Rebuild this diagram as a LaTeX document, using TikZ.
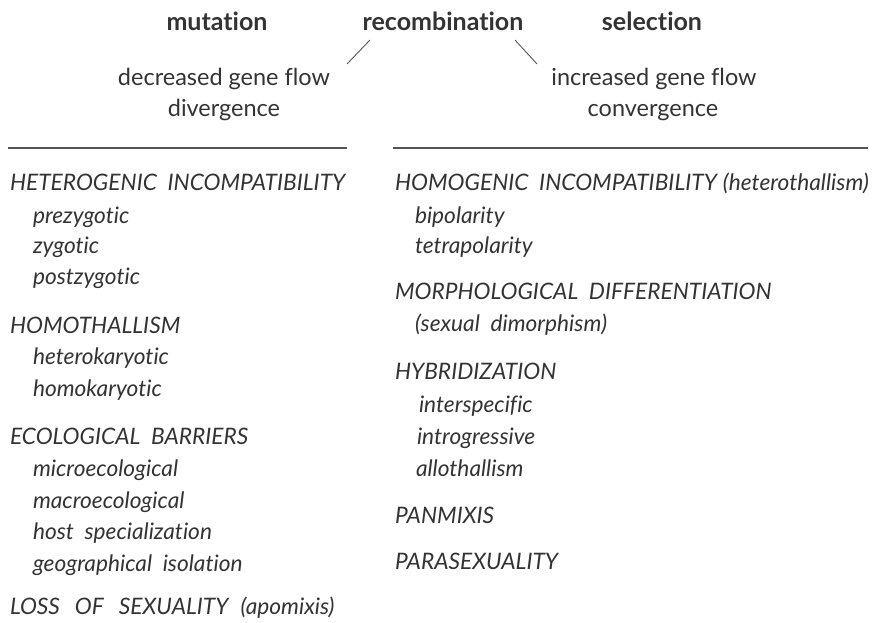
\documentclass[tikz,border=0pt]{standalone}
\usepackage{fontspec}
\setmainfont{Lato}[Ligatures=NoCommon]
\begin{document}
\begin{tikzpicture}[x=1pt,y=-1pt,
  every node/.style={inner sep=0pt, outer sep=0pt, text=txt},
  head/.style={anchor=mid, font=\fontsize{25}{28}\selectfont\bfseries},
  sub/.style={anchor=mid, font=\fontsize{23.5}{26}\selectfont},
  cat/.style={anchor=mid west, font=\fontsize{22.7}{26}\selectfont\itshape},
  item/.style={anchor=mid west, font=\fontsize{22.7}{26}\selectfont\itshape},
  rule/.style={draw=ln, line width=1.1pt},
  tick/.style={draw=ln, line width=0.9pt}]
\definecolor{txt}{HTML}{333333}
\definecolor{ln}{HTML}{555555}
\useasboundingbox (0,0) rectangle (872,623);
% top labels
\node[head] (mut) at (217,28) {mutation};
\node[head] (rec) at (443,28) {recombination};
\node[head] (sel) at (652,28) {selection};
\node[sub] (dec) at (224,83) {decreased gene flow};
\node[sub] (div) at (224,114) {divergence};
\node[sub] (inc) at (654,83) {increased gene flow};
\node[sub] (con) at (653,114) {convergence};
\coordinate (l1) at (370,40); \coordinate (l2) at (347,64);
\coordinate (r1) at (515,40); \coordinate (r2) at (537,64);
\draw[tick] (l1) -- (l2);
\draw[tick] (r1) -- (r2);
\coordinate (la) at (8,148); \coordinate (lb) at (347,148);
\coordinate (ra) at (393,148); \coordinate (rb) at (868,148);
\draw[rule] (la) -- (lb);
\draw[rule] (ra) -- (rb);
% left column
\node[cat] (het) at (10,188) {HETEROGENIC\ \ INCOMPATIBILITY};
\node[item] (pre) at (33,221) {prezygotic};
\node[item] (zyg) at (33,251) {zygotic};
\node[item] (pos) at (33,282) {postzygotic};
\node[cat] (hom) at (10,331) {HOMOTHALLISM};
\node[item] (hek) at (33,362) {heterokaryotic};
\node[item] (hok) at (33,394) {homokaryotic};
\node[cat] (eco) at (10,442) {ECOLOGICAL\ \ BARRIERS};
\node[item] (mic) at (33,474) {microecological};
\node[item] (mac) at (33,506) {macroecological};
\node[item] (hos) at (33,537) {host\ \ specialization};
\node[item] (geo) at (33,569) {geographical\ \ isolation};
\node[cat] (los) at (10,612) {LOSS\hspace{15pt}OF\hspace{15pt}SEXUALITY\hspace{12pt}(apomixis)};
% right column
\node[cat] (hmg) at (395,188) {HOMOGENIC\ \ INCOMPATIBILITY\hspace{6pt}(heterothallism)};
\node[item] (bip) at (415,221) {bipolarity};
\node[item] (tet) at (415,251) {tetrapolarity};
\node[cat] (mor) at (395,297) {MORPHOLOGICAL\ \ DIFFERENTIATION};
\node[item] (sex) at (415,329) {(sexual\ \ dimorphism)};
\node[cat] (hyb) at (395,377) {HYBRIDIZATION};
\node[item] (ins) at (419,410) {interspecific};
\node[item] (int) at (417,442) {introgressive};
\node[item] (all) at (416,474) {allothallism};
\node[cat] (pan) at (395,521) {PANMIXIS};
\node[cat] (par) at (395,567) {PARASEXUALITY};
\end{tikzpicture}
\end{document}
